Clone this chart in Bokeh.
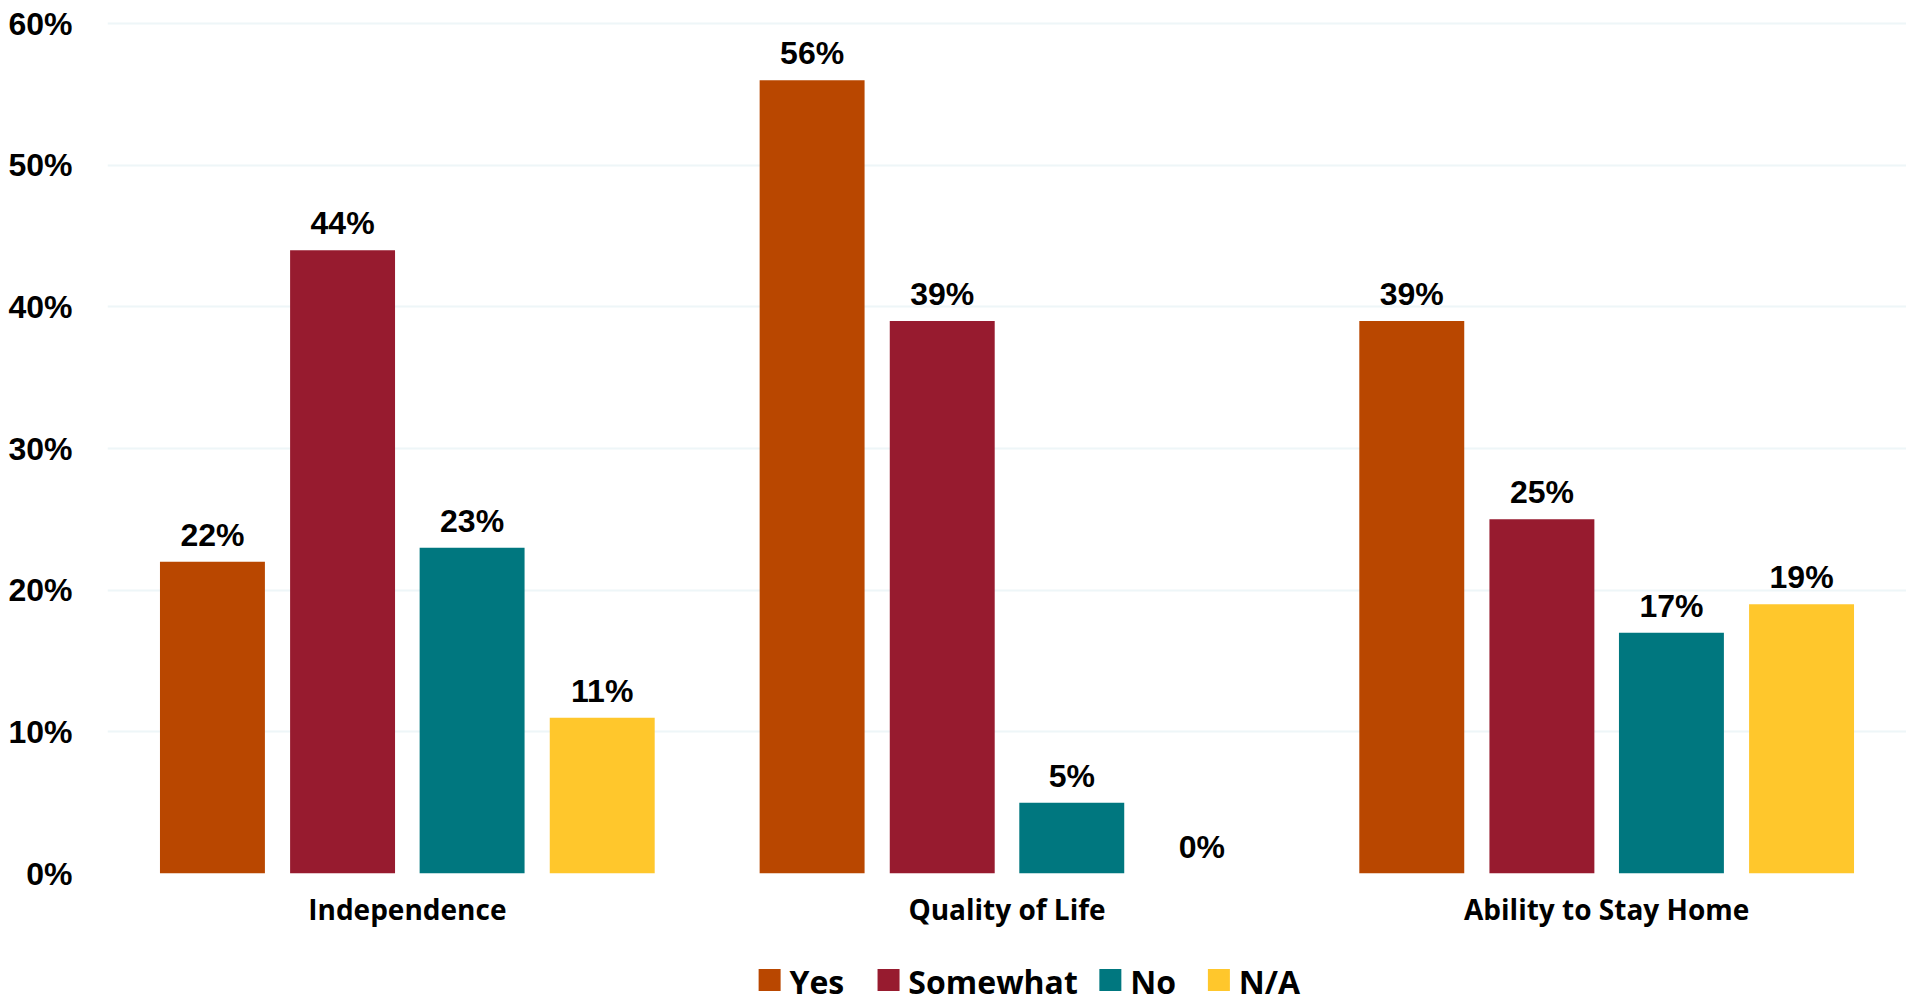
from bokeh.plotting import figure
from bokeh.layouts import column
from bokeh.models import (FactorRange, Range1d, ColumnDataSource, FixedTicker)
from bokeh.transform import dodge
from bokeh.core.properties import value
from bokeh.embed import file_html
from bokeh.resources import INLINE

# ---- data ----
categories = ["Independence", "Quality of Life", "Ability to Stay Home"]
series = ["Yes", "Somewhat", "No", "N/A"]
yes = [22, 56, 39]
somewhat = [44, 39, 25]
no = [23, 5, 17]
na = [11, 0, 19]
y_ticks = [0, 10, 20, 30, 40, 50, 60]
y_tick_labels = ["0%", "10%", "20%", "30%", "40%", "50%", "60%"]

colors = ["#B94700", "#971B2F", "#00777F", "#FFC72C"]
offsets = [-0.325, -0.108, 0.108, 0.325]
keys = ["yes", "somewhat", "no", "na"]

data = dict(cat=categories, yes=yes, somewhat=somewhat, no=no, na=na)
for k in keys:
    data[k + "_lbl"] = [f"{v}%" for v in data[k]]
source = ColumnDataSource(data)

# frame reaches the top edge; 60% sits 23px below it (850px per 60 units)
y_top = 60 + 23 * 60 / 850

p = figure(width=1906, height=940, output_backend="svg", toolbar_location=None,
           x_range=FactorRange(factors=categories), y_range=Range1d(0, y_top),
           min_border_left=107, min_border_right=0, min_border_top=0,
           min_border_bottom=67, outline_line_color=None)

for k, c, off in zip(keys, colors, offsets):
    p.vbar(x=dodge("cat", off, range=p.x_range), top=k, width=0.175,
           source=source, fill_color=c, line_color=None)
    p.text(x=dodge("cat", off, range=p.x_range), y=k, text=k + "_lbl", source=source,
           y_offset=-27, text_align="center", text_baseline="alphabetic",
           text_font=value("Liberation Sans"), text_font_style="bold",
           text_font_size="32px", text_color="black")

# axes
p.yaxis.ticker = FixedTicker(ticks=y_ticks)
p.yaxis.major_label_overrides = dict(zip(y_ticks, y_tick_labels))
p.yaxis.major_label_text_font = "Liberation Sans"
p.yaxis.major_label_text_font_style = "bold"
p.yaxis.major_label_text_font_size = "32px"
p.yaxis.major_label_text_color = "black"
p.yaxis.major_label_standoff = 29
p.yaxis.axis_line_color = None
p.yaxis.major_tick_line_color = None
p.yaxis.minor_tick_line_color = None

p.xaxis.major_label_text_font = "Open Sans"
p.xaxis.major_label_text_font_style = "bold"
p.xaxis.major_label_text_font_size = "28px"
p.xaxis.major_label_text_color = "black"
p.xaxis.major_label_standoff = 10
p.xaxis.axis_line_color = None
p.xaxis.major_tick_line_color = None
p.xaxis.minor_tick_line_color = None

p.xgrid.grid_line_color = None
p.ygrid.grid_line_color = "#EEF6F8"
p.ygrid.grid_line_width = 2

# ---- legend strip (drawn with glyphs in its own small figure) ----
leg_h = 66
sw, gap, item_gap = 22, 10, 40          # swatch size, swatch-text gap, item gap (px)
label_w = [54, 163, 43, 61]             # approx. label widths at 32px (px)
total = sum(sw + gap + w for w in label_w) + item_gap * (len(label_w) - 1)
x0 = 975 - total / 2
sx, tx = [], []
for w in label_w:
    sx.append(x0 + sw / 2)
    tx.append(x0 + sw + gap)
    x0 += sw + gap + w + item_gap

leg = figure(width=1906, height=leg_h, output_backend="svg", toolbar_location=None,
             x_range=Range1d(0, 1906), y_range=Range1d(0, leg_h),
             min_border=0, outline_line_color=None)
leg.axis.visible = False
leg.grid.visible = False
leg_src = ColumnDataSource(dict(sx=sx, tx=tx, label=series, color=colors))
leg.scatter(x="sx", y=leg_h - 39.5, marker="square", size=sw, source=leg_src,
            fill_color="color", line_color=None)
leg.text(x="tx", y=leg_h - 40.5, text="label", source=leg_src,
         text_align="left", text_baseline="alphabetic",
         text_font=value("Open Sans"), text_font_style="bold",
         text_font_size="32px", text_color="black")

layout = column(p, leg, spacing=0)
open("out.html", "w").write(file_html(layout, INLINE))
